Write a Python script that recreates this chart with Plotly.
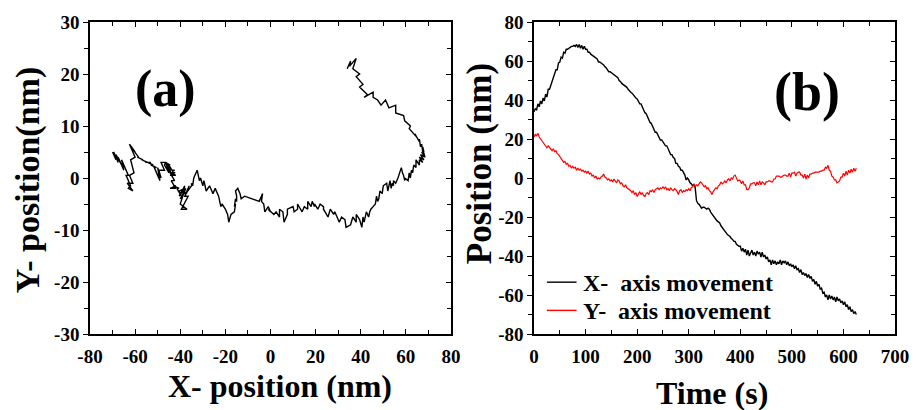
import plotly.graph_objects as go

# ---- data ----
time_s = [0, 2.5, 5, 7.5, 10, 12.5, 15, 17.5, 20, 22.5,
          25, 27.5, 30, 32.5, 35, 37.5, 40, 42.5, 45, 47.5,
          50, 52.5, 55, 57.5, 60, 62.5, 65, 67.5, 70, 72.5,
          75, 77.5, 80, 82.5, 85, 87.5, 90, 92.5, 95, 97.5,
          100, 102.5, 105, 107.5, 110, 112.5, 115, 117.5, 120, 122.5,
          125, 127.5, 130, 132.5, 135, 137.5, 140, 142.5, 145, 147.5,
          150, 152.5, 155, 157.5, 160, 162.5, 165, 167.5, 170, 172.5,
          175, 177.5, 180, 182.5, 185, 187.5, 190, 192.5, 195, 197.5,
          200, 202.5, 205, 207.5, 210, 212.5, 215, 217.5, 220, 222.5,
          225, 227.5, 230, 232.5, 235, 237.5, 240, 242.5, 245, 247.5,
          250, 252.5, 255, 257.5, 260, 262.5, 265, 267.5, 270, 272.5,
          275, 277.5, 280, 282.5, 285, 287.5, 290, 292.5, 295, 297.5,
          300, 302.5, 305, 307.5, 310, 312.5, 315, 317.5, 320, 322.5,
          325, 327.5, 330, 332.5, 335, 337.5, 340, 342.5, 345, 347.5,
          350, 352.5, 355, 357.5, 360, 362.5, 365, 367.5, 370, 372.5,
          375, 377.5, 380, 382.5, 385, 387.5, 390, 392.5, 395, 397.5,
          400, 402.5, 405, 407.5, 410, 412.5, 415, 417.5, 420, 422.5,
          425, 427.5, 430, 432.5, 435, 437.5, 440, 442.5, 445, 447.5,
          450, 452.5, 455, 457.5, 460, 462.5, 465, 467.5, 470, 472.5,
          475, 477.5, 480, 482.5, 485, 487.5, 490, 492.5, 495, 497.5,
          500, 502.5, 505, 507.5, 510, 512.5, 515, 517.5, 520, 522.5,
          525, 527.5, 530, 532.5, 535, 537.5, 540, 542.5, 545, 547.5,
          550, 552.5, 555, 557.5, 560, 562.5, 565, 567.5, 570, 572.5,
          575, 577.5, 580, 582.5, 585, 587.5, 590, 592.5, 595, 597.5,
          600, 602.5, 605, 607.5, 610, 612.5, 615, 617.5, 620, 622.5,
          625]

x_pos = [34, 35.5, 35, 38, 36.5, 39.5, 38, 41, 39.5, 43,
         41.5, 45.5, 45.5, 47.5, 49, 51, 52.5, 55.5, 55.5, 59,
         59.5, 62, 61.5, 64.5, 64, 66, 66, 66.5, 67, 67.5,
         67.5, 68, 67.5, 68.5, 67, 68.5, 66.5, 68, 66, 67.5,
         66, 66, 64.5, 64.5, 63.5, 63, 62.5, 62, 61.5, 61,
         59.5, 59.5, 59, 58.5, 58, 57, 56.5, 55.5, 54.5, 54.5,
         54, 53.5, 53, 52.5, 52, 51.5, 50, 49.5, 48.5, 48,
         47.5, 47, 46.5, 45.5, 44.5, 44, 43.5, 42.5, 41.5, 41,
         40.5, 39.5, 38, 38, 36.5, 35.5, 33.5, 33, 31.5, 30.5,
         28.5, 28, 26.5, 25.5, 23.5, 23.5, 22, 21, 19.5, 19.5,
         18.5, 18, 16.5, 16.5, 15, 14, 12, 12, 10.5, 10,
         7.5, 7.5, 6, 5.5, 4, 4, 2.5, 1.5, -1, 0,
         -1, -2.5, -3, -4, -3.5, -5, -11.5, -13, -13.5, -14.5,
         -15.5, -15, -15, -15.5, -16, -15.5, -16, -17.5, -18.5, -19,
         -20, -21.5, -22, -22.5, -23, -24.5, -25.5, -26, -27, -28.5,
         -29, -29.5, -30, -31, -31.5, -32.5, -32.5, -34, -34.5, -35,
         -35, -37.5, -36, -38, -36.5, -39.5, -37, -40, -38.5, -37,
         -39.5, -38, -40, -37.5, -39, -38, -40.5, -38, -40.5, -39.5,
         -41.5, -40.5, -43, -42, -44.5, -42, -44, -42.5, -44.5, -43,
         -44, -42, -44.5, -42.5, -43.5, -42.5, -44.5, -43, -45, -44,
         -45.5, -44.5, -46.5, -45, -47, -46.5, -48.5, -47, -49.5, -48.5,
         -50, -49, -51, -49.5, -51.5, -50.5, -53, -52, -54.5, -53,
         -55.5, -54.5, -57, -56.5, -59, -58.5, -61, -60, -62.5, -60,
         -62, -60.5, -62.5, -61, -63.5, -61, -63, -62, -64, -63,
         -65, -63.5, -66, -65, -67.5, -66, -68.5, -67.5, -69.5, -68.5,
         -70]

y_pos = [21, 22.5, 21.5, 23, 21, 20, 19.5, 18, 17.5, 16,
         15.5, 16.5, 15.5, 15, 14, 15, 13.5, 14, 12.5, 12,
         11, 10, 9.5, 8, 8.5, 7, 7.5, 6, 6.5, 5,
         6, 5, 5.5, 4, 5, 4, 4.5, 3.5, 4, 3,
         3.5, 2.5, 3.5, 2, 2.5, 1, 1.5, 0, 1, -0.5,
         0, -0.5, 0.5, 1, 2, 0.5, 0, -1, -0.5, -1.5,
         -1, -2, -0.5, -1.5, -2.5, -1, -1.5, -3, -2.5, -4,
         -4.5, -3.5, -5, -5.5, -6, -6.5, -7.5, -6.5, -8.5, -7.5,
         -9.5, -8, -7, -8.5, -7.5, -9, -9.5, -8, -7.5, -8.5,
         -6.5, -7, -6, -7.5, -6, -5.5, -5, -6, -5, -5.5,
         -4.5, -5.5, -4.5, -6, -5.5, -6.5, -5, -6, -6.5, -5.5,
         -6, -7, -8.5, -6.5, -6, -7.5, -6.5, -7, -6, -6.5,
         -5.5, -6.5, -5, -4.5, -3, -4.5, -3.5, -4, -3, -2,
         -2.5, -3.5, -4.5, -4, -5.5, -5, -6.5, -7, -8.5, -7,
         -6, -5, -5.5, -4, -3.5, -2, -3, -2.5, -1.5, -2.5,
         -1, -0.5, -1.5, 0, -0.5, 1, 1.5, 0, -1.5, -1,
         -1.5, -3, -1.5, -3.5, -3.5, -6, -6, -5, -3, -3,
         -2.5, -2.5, -4, -2, -3.5, -1.5, -3.5, -2, -2.5, -3.5,
         -2, -2, -1.5, -1.5, -2, -2, -0.5, -0.5, 1, 1,
         1, 0.5, 0.5, 1, 1.5, 1.5, 1, 1, 2.5, 0.5,
         2.5, 2.5, 3, 1, 2.5, 3, 3, 1.5, 1.5, 0,
         2, -0.5, 1.5, 0, 2, 2, 2.5, 2.5, 3, 3,
         3, 3, 3.5, 3.5, 4, 4, 5.5, 5, 6.5, 4,
         3.5, 1, 0.5, -1, -1, -2.5, -2, -1.5, 0.5, 0.5,
         2.5, 1, 3.5, 1.5, 4, 2.5, 4.5, 3, 5, 3.5,
         5]

series_names = ["X-\u00a0 axis movement", "Y-\u00a0 axis movement"]
series_colors = ["black", "red"]

xa_ticks = [-80, -60, -40, -20, 0, 20, 40, 60, 80]
xa_text = ["-80", "-60", "-40", "-20", "0", "20", "40", "60", "80"]
ya_ticks = [-30, -20, -10, 0, 10, 20, 30]
ya_text = ["-30", "-20", "-10", "0", "10", "20", "30"]
xb_ticks = [0, 100, 200, 300, 400, 500, 600, 700]
xb_text = ["0", "100", "200", "300", "400", "500", "600", "700"]
yb_ticks = [-80, -60, -40, -20, 0, 20, 40, 60, 80]
yb_text = ["-80", "-60", "-40", "-20", "0", "20", "40", "60", "80"]

FONT = "Liberation Serif, Times New Roman, serif"
W, H = 921, 410
ML, MR, MT, MB = 90, 17, 21, 76
PW = W - ML - MR
PH = H - MT - MB


def px_x(p):
    return (p - ML) / PW


def px_y(p):
    return (H - MB - p) / PH


def bold(lst):
    return ["<b>%s</b>" % s for s in lst]


dom_a = [0, px_x(455)]
dom_b = [px_x(539), 1]

fig = go.Figure()
fig.add_trace(go.Scatter(x=x_pos, y=y_pos, mode="lines", xaxis="x", yaxis="y",
                         line=dict(color="black", width=1.4), showlegend=False))
fig.add_trace(go.Scatter(x=time_s, y=x_pos, mode="lines", xaxis="x2", yaxis="y2",
                         line=dict(color=series_colors[0], width=1.4),
                         name=series_names[0], showlegend=False))
fig.add_trace(go.Scatter(x=time_s, y=y_pos, mode="lines", xaxis="x2", yaxis="y2",
                         line=dict(color=series_colors[1], width=1.2),
                         name=series_names[1], showlegend=False))
# dummy traces so the overlay (right-side tick) axes are drawn
fig.add_trace(go.Scatter(x=[None], y=[None], xaxis="x", yaxis="y3", showlegend=False))
fig.add_trace(go.Scatter(x=[None], y=[None], xaxis="x2", yaxis="y4", showlegend=False))

tickfont = dict(family=FONT, size=19, color="black", weight="bold")
common = dict(showline=True, linecolor="black", linewidth=1.5, showgrid=False,
              zeroline=False, tickfont=tickfont, tickcolor="black", tickwidth=1.2)

fig.update_layout(
    width=W, height=H,
    margin=dict(l=ML, r=MR, t=MT, b=MB),
    paper_bgcolor="white", plot_bgcolor="white",
    font=dict(family=FONT, color="black", weight="bold"),
    showlegend=False,
    xaxis=dict(domain=dom_a, range=[-80, 80], anchor="y", tickvals=xa_ticks, ticktext=bold(xa_text),
               ticks="inside", ticklen=5, mirror="ticks", ticklabelstandoff=4,
               minor=dict(dtick=10, ticks="inside", ticklen=4, tickcolor="black"), **common),
    yaxis=dict(domain=[0, 1], range=[-30, 30], anchor="x", tickvals=ya_ticks, ticktext=bold(ya_text),
               ticks="outside", ticklen=5, mirror=True,
               minor=dict(dtick=5, ticks="outside", ticklen=4, tickcolor="black"), **common),
    yaxis3=dict(overlaying="y", anchor="x", side="right", range=[-30, 30], showticklabels=False,
                showline=False, showgrid=False, zeroline=False, ticks="inside", ticklen=5,
                tickvals=ya_ticks, tickcolor="black", tickwidth=1.2,
                minor=dict(dtick=5, ticks="inside", ticklen=4, tickcolor="black")),
    xaxis2=dict(domain=dom_b, range=[0, 700], anchor="y2", tickvals=xb_ticks, ticktext=bold(xb_text),
                ticks="inside", ticklen=5, mirror="ticks", ticklabelstandoff=4,
                minor=dict(dtick=50, ticks="inside", ticklen=4, tickcolor="black"), **common),
    yaxis2=dict(domain=[0, 1], range=[-80, 80], anchor="x2", tickvals=yb_ticks, ticktext=bold(yb_text),
                ticks="outside", ticklen=5, mirror=True,
                minor=dict(dtick=10, ticks="outside", ticklen=4, tickcolor="black"), **common),
    yaxis4=dict(overlaying="y2", anchor="x2", side="right", range=[-80, 80], showticklabels=False,
                showline=False, showgrid=False, zeroline=False, ticks="inside", ticklen=5,
                tickvals=yb_ticks, tickcolor="black", tickwidth=1.2,
                minor=dict(dtick=10, ticks="inside", ticklen=4, tickcolor="black")),
)


def ann(text, xp, yp, size, angle=0, xanchor="center"):
    fig.add_annotation(text="<b>%s</b>" % text, x=px_x(xp), y=px_y(yp), xref="paper", yref="paper",
                       showarrow=False, textangle=angle, xanchor=xanchor, yanchor="middle",
                       font=dict(family=FONT, size=size, color="black", weight="bold"))


ann("X- position (nm)", 282, 386, 32)
ann("Y- position(nm)", 28, 180, 34, -90)
ann("Time (s)", 719, 393, 32)
ann("Position (nm)", 484, 163, 35, -90)
ann("(a)", 166, 88, 52)
ann("(b)", 815, 91, 54)

# legend (drawn as line samples + text to match the compact spacing)
for i, (nm, col) in enumerate(zip(series_names, series_colors)):
    yc = 282 + 28.3 * i
    fig.add_shape(type="line", xref="paper", yref="paper",
                  x0=px_x(552), x1=px_x(582), y0=px_y(yc), y1=px_y(yc),
                  line=dict(color=col, width=1.4))
    ann(nm, 586, yc + 1, 24, xanchor="left")

fig.write_html("out.html")
